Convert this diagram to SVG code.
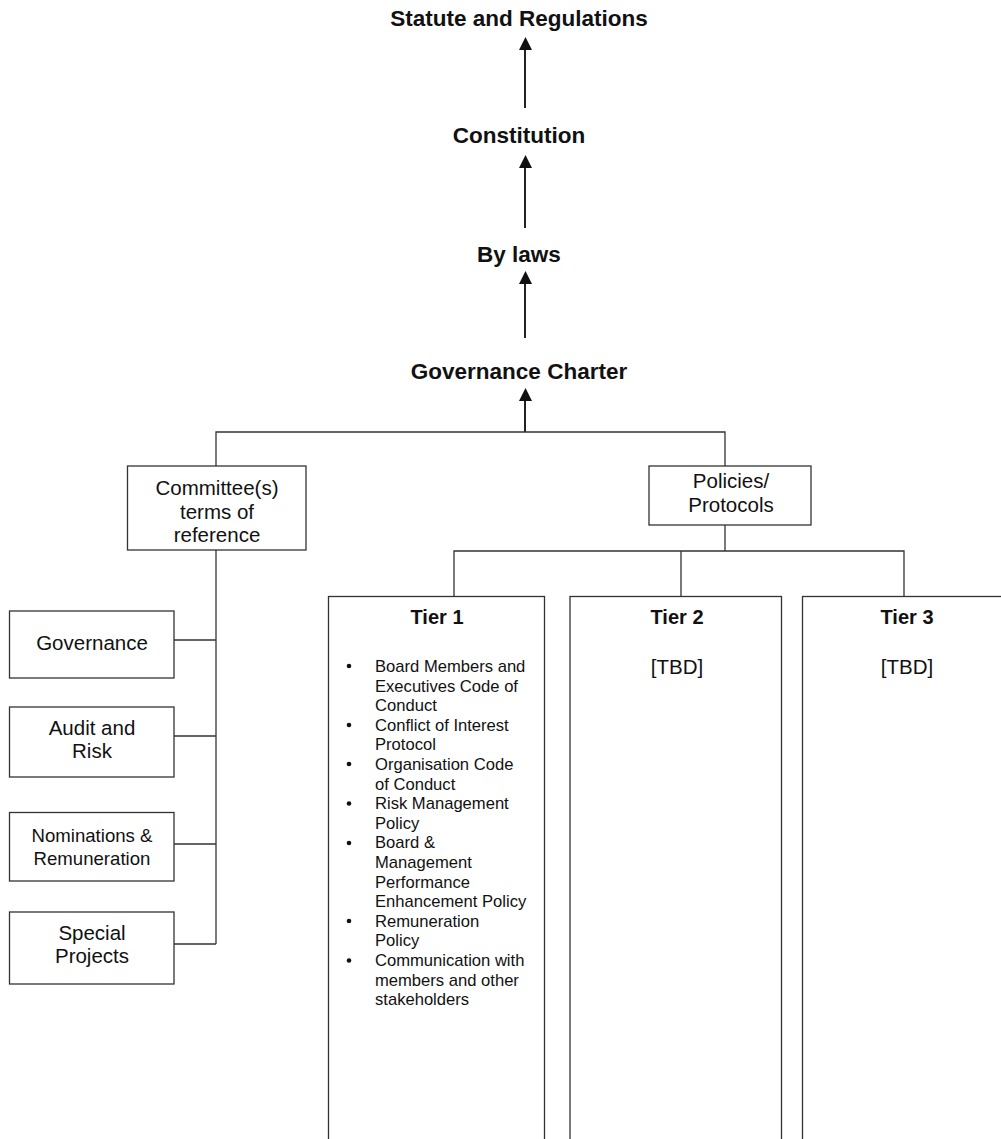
<svg xmlns="http://www.w3.org/2000/svg" width="1001" height="1139" viewBox="0 0 1001 1139">
<style>
text{font-family:"Liberation Sans",Arial,sans-serif;fill:#111}
.t{font-size:22.5px;font-weight:bold;text-anchor:middle}
.b{font-size:20.5px;text-anchor:middle}
.h{font-size:20px;font-weight:bold;text-anchor:middle}
.l{font-size:16.6px}
.box{fill:#fff;stroke:#333;stroke-width:1.3}
.c{fill:none;stroke:#333;stroke-width:1.3}
.a{fill:none;stroke:#222;stroke-width:2}
.head{fill:#111}
.dot{fill:#111}
</style>
<defs>
<path id="ah" d="M-6.5,13 L0,0 L6.5,13 Z"/>
</defs>
<g id="connectors">
<line class="a" x1="525" y1="108" x2="525" y2="44"/>
<use href="#ah" class="head" x="525.5" y="37"/>
<line class="a" x1="525" y1="228" x2="525" y2="162"/>
<use href="#ah" class="head" x="525.5" y="155"/>
<line class="a" x1="525" y1="338" x2="525" y2="278"/>
<use href="#ah" class="head" x="525.5" y="271"/>
<line class="a" x1="525" y1="432" x2="525" y2="395"/>
<use href="#ah" class="head" x="525.5" y="388"/>
<path class="c" d="M216,466 V432 H725 V466"/>
<path class="c" d="M216,550 V944"/>
<path class="c" d="M174,640 H216 M174,736 H216 M174,844 H216 M174,944 H216"/>
<path class="c" d="M725,525 V551 M454,596 V551 H904 V596 M681,551 V596"/>
</g>
<g id="statute"><text class="t" x="519" y="26">Statute and Regulations</text></g>
<g id="constitution"><text class="t" x="519" y="143">Constitution</text></g>
<g id="bylaws"><text class="t" x="519" y="262">By laws</text></g>
<g id="charter"><text class="t" x="519" y="379">Governance Charter</text></g>
<g id="committee">
<rect class="box" x="127.5" y="466" width="178.5" height="84"/>
<text class="b" x="217" y="495">Committee(s)</text>
<text class="b" x="217" y="518.5">terms of</text>
<text class="b" x="217" y="542">reference</text>
</g>
<g id="policies">
<rect class="box" x="649" y="466" width="162" height="59"/>
<text class="b" x="731" y="488">Policies/</text>
<text class="b" x="731" y="512">Protocols</text>
</g>
<g id="governance">
<rect class="box" x="9.5" y="611" width="164.5" height="67"/>
<text class="b" x="92" y="650">Governance</text>
</g>
<g id="audit">
<rect class="box" x="9.5" y="707" width="164.5" height="70"/>
<text class="b" x="92" y="735">Audit and</text>
<text class="b" x="92" y="758">Risk</text>
</g>
<g id="nominations">
<rect class="box" x="9.5" y="812.5" width="164.5" height="68.5"/>
<text class="b" x="92" y="842" style="font-size:18.6px">Nominations &amp;</text>
<text class="b" x="92" y="865" style="font-size:18.6px">Remuneration</text>
</g>
<g id="special">
<rect class="box" x="9.5" y="912" width="164.5" height="72"/>
<text class="b" x="92" y="940">Special</text>
<text class="b" x="92" y="963">Projects</text>
</g>
<g id="tier1">
<rect class="box" x="328.5" y="596.5" width="216" height="560"/>
<text class="h" x="437" y="624">Tier 1</text>
<g class="dot">
<circle cx="349" cy="666" r="2.3"/>
<circle cx="349" cy="725" r="2.3"/>
<circle cx="349" cy="764" r="2.3"/>
<circle cx="349" cy="803.5" r="2.3"/>
<circle cx="349" cy="843" r="2.3"/>
<circle cx="349" cy="921" r="2.3"/>
<circle cx="349" cy="960.5" r="2.3"/>
</g>
<g class="l">
<text x="375" y="672">Board Members and</text>
<text x="375" y="691.6">Executives Code of</text>
<text x="375" y="711.2">Conduct</text>
<text x="375" y="730.8">Conflict of Interest</text>
<text x="375" y="750.4">Protocol</text>
<text x="375" y="770">Organisation Code</text>
<text x="375" y="789.6">of Conduct</text>
<text x="375" y="809.2">Risk Management</text>
<text x="375" y="828.8">Policy</text>
<text x="375" y="848.4">Board &amp;</text>
<text x="375" y="868">Management</text>
<text x="375" y="887.6">Performance</text>
<text x="375" y="907.2">Enhancement Policy</text>
<text x="375" y="926.8">Remuneration</text>
<text x="375" y="946.4">Policy</text>
<text x="375" y="966">Communication with</text>
<text x="375" y="985.6">members and other</text>
<text x="375" y="1005.2">stakeholders</text>
</g>
</g>
<g id="tier2">
<rect class="box" x="570" y="596.5" width="211.5" height="560"/>
<text class="h" x="677" y="624">Tier 2</text>
<text class="b" x="677" y="674">[TBD]</text>
</g>
<g id="tier3">
<rect class="box" x="802.5" y="596.5" width="220" height="560"/>
<text class="h" x="907" y="624">Tier 3</text>
<text class="b" x="907" y="674">[TBD]</text>
</g>
</svg>
